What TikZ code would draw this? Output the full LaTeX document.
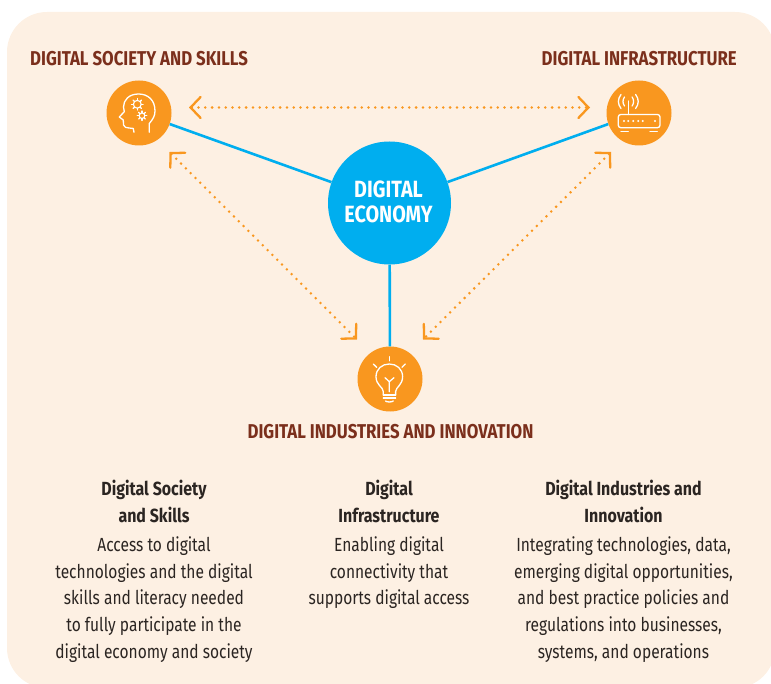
\documentclass[tikz,border=0pt]{standalone}
\usepackage{fontspec}
\usetikzlibrary{arrows.meta,calc}
\setmainfont{Fira Sans}
\newfontfamily\bodyfont[FakeStretch=0.818]{Fira Sans}
\newfontfamily\capsfont[FakeStretch=0.84]{Fira Sans Bold}
\definecolor{panel}{HTML}{FDF0E3}
\definecolor{orangec}{HTML}{F9971F}
\definecolor{bluec}{HTML}{00AEEF}
\definecolor{brownc}{HTML}{7B2F1C}
\definecolor{textc}{HTML}{2B2522}
\tikzset{
  x=1pt,y=-1pt,
  hub/.style={circle,fill=orangec,minimum size=65pt,inner sep=0pt},
  centre/.style={circle,fill=bluec,minimum size=123pt,inner sep=0pt},
  centretext/.style={inner sep=0pt,text=white,align=center,font=\capsfont\fontsize{23.5}{25}\selectfont},
  spoke/.style={bluec,line width=2.6pt},
  link/.style={orangec,line width=2.8pt,dash pattern=on 0pt off 6.8pt,line cap=round,{Straight Barb[length=10pt,width=21pt,line width=2.3pt,line cap=round]}-{Straight Barb[length=10pt,width=21pt,line width=2.3pt,line cap=round]}},
  heading/.style={text=brownc,inner sep=0pt,font=\capsfont\fontsize{20}{24}\selectfont},
  column/.style={text=textc,inner sep=0pt,align=center,anchor=north,font=\bodyfont\fontsize{19}{26.7}\selectfont},
  icon/.style={white,line width=1.3pt,line cap=round,line join=round},
}
\newcommand{\colhead}[1]{{\capsfont\fontsize{19}{26.7}\selectfont #1}}
\begin{document}
\begin{tikzpicture}
\useasboundingbox (0,0) rectangle (771,684);
\clip (0,0) rectangle (771,684);
\fill[panel,rounded corners=40pt] (7,12) rectangle (775,688);
\node[hub] (society) at (139,113) {};
\node[hub] (infra) at (639,113) {};
\node[hub] (industry) at (390,379) {};
\node[centre] (economy) at (389.5,203) {};
\node[centretext] (economytext) at (388.5,201.5) {DIGITAL\\ECONOMY};
\draw[spoke] (economy) -- (society);
\draw[spoke] (economy) -- (infra);
\draw[spoke] (economy) -- (industry);
\coordinate (a1) at (189,107.5);
\coordinate (a2) at (590,107.5);
\coordinate (b1) at (169.5,152);
\coordinate (b2) at (357,339.5);
\coordinate (c1) at (611,152);
\coordinate (c2) at (423,339.5);
\draw[link] (a1) -- (a2);
\draw[link] (b1) -- (b2);
\draw[link] (c1) -- (c2);
% head icon
\draw[icon] (149.3,132.3) -- (149.3,123.5) .. controls (153,119) and (155,116) .. (155,111) .. controls (155,100) and (148,94) .. (138.5,94) .. controls (129,94) and (123.5,100) .. (123.5,107) -- (124.3,111.7) -- (119.3,117) -- (123.3,120) -- (123.5,125) .. controls (124,127.5) and (125,127.5) .. (133.3,128.5) -- (134,132.3);
\foreach \cx/\cy/\r in {137.3/104.3/3.9,142/115.7/2.8}{
  \draw[icon,line width=1.1pt] (\cx,\cy) circle[radius=\r];
  \foreach \t in {0,45,...,315}
    \draw[icon,line width=1.3pt] ($(\cx,\cy)+(\t:\r)$) -- ($(\cx,\cy)+(\t:\r+1.9)$);
}
% router icon
\draw[icon,rounded corners=2.5pt] (618.3,114.5) rectangle (660,127.7);
\draw[icon] (628.3,114.5) -- (628.3,101);
\draw[icon] (624.5,97) .. controls (622.5,100) and (622.5,103) .. (624.5,106);
\draw[icon] (621,94.5) .. controls (617.5,99) and (617.5,104) .. (621,108.5);
\draw[icon] (632.1,97) .. controls (634.1,100) and (634.1,103) .. (632.1,106);
\draw[icon] (635.6,94.5) .. controls (639.1,99) and (639.1,104) .. (635.6,108.5);
\foreach \dx in {624,628.3,633.3,638.3,642.7,655}
  \fill[white] (\dx,121) circle[radius=1.1];
\draw[icon] (621,131.3) -- (628.3,131.3);
\draw[icon] (650,131.3) -- (657.3,131.3);
% bulb icon
\draw[icon] (383.3,395) -- (383.3,391.5) .. controls (383,387) and (376,385) .. (376,376.7) .. controls (376,369) and (382,364) .. (389.3,364) .. controls (396.6,364) and (402.6,369) .. (402.6,376.7) .. controls (402.6,385) and (396,387) .. (395.6,391.5) -- (395.6,395);
\draw[icon] (389.3,391.7) -- (389.3,381.7) -- (385,377.7);
\draw[icon] (389.3,381.7) -- (394,377.7);
\draw[icon] (383.3,395) -- (395.6,395);
\draw[icon] (383.3,398) -- (395.6,398);
\draw[icon] (385.5,401) .. controls (387,402.3) and (391.6,402.3) .. (393.3,401);
\draw[icon] (389.3,356.7) -- (389.3,360.7);
\draw[icon] (373.3,364) -- (376.7,367.3);
\draw[icon] (405.3,364) -- (402,367.3);
% headings
\node[heading,anchor=west] (h1) at (30,59) {DIGITAL SOCIETY AND SKILLS};
\node[heading,anchor=east] (h2) at (737,59) {DIGITAL INFRASTRUCTURE};
\node[heading] (h3) at (390.5,432) {DIGITAL INDUSTRIES AND INNOVATION};
% columns
\node[column] (col1) at (154,480) {\colhead{Digital Society}\\\colhead{and Skills}\\[2.5pt]Access to digital\\technologies and the digital\\skills and literacy needed\\to fully participate in the\\digital economy and society};
\node[column] (col2) at (389,480) {\colhead{Digital}\\\colhead{Infrastructure}\\[2.5pt]Enabling digital\\connectivity that\\supports digital access};
\node[column] (col3) at (623.5,480) {\colhead{Digital Industries and}\\\colhead{Innovation}\\[2.5pt]Integrating technologies, data,\\emerging digital opportunities,\\and best practice policies and\\regulations into businesses,\\systems, and operations};
\end{tikzpicture}
\end{document}
